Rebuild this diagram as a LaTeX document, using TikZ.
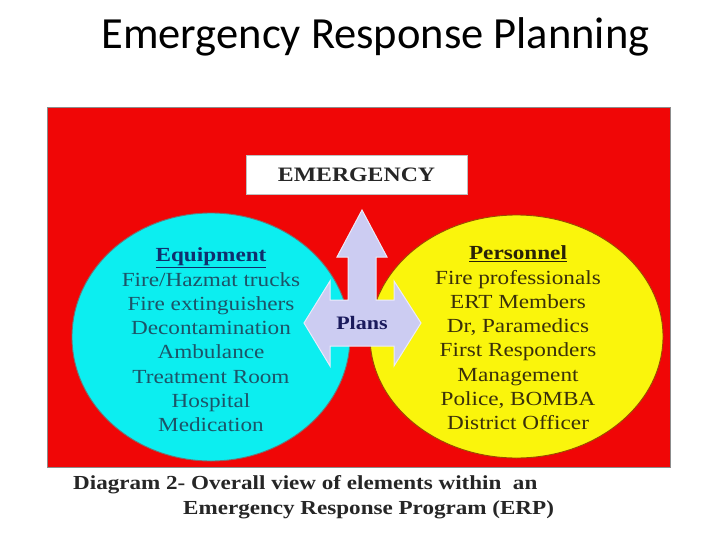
\documentclass[tikz,border=0pt]{standalone}
\usepackage{fontspec}
\setmainfont{Liberation Serif}
\newfontfamily\titlefont{Carlito}
\newfontfamily\diagfont[FakeStretch=1.16]{Liberation Serif}
\usetikzlibrary{positioning}
\definecolor{boardred}{RGB}{240,6,6}
\definecolor{equipcyan}{RGB}{12,238,240}
\definecolor{staffyellow}{RGB}{250,245,12}
\definecolor{planlilac}{RGB}{204,204,242}
\definecolor{equiptext}{RGB}{28,84,104}
\definecolor{stafftext}{RGB}{58,48,10}
\definecolor{plantext}{RGB}{26,26,92}
\tikzset{
  listtext/.style={align=center,inner sep=0pt,font=\diagfont\fontsize{20}{24.3}\selectfont},
  captext/.style={anchor=base west,inner sep=0pt,text=black!85,font=\diagfont\bfseries\fontsize{19.9}{24}\selectfont}
}
\begin{document}
\begin{tikzpicture}[x=1pt,y=-1pt]
      \useasboundingbox (0,0) rectangle (728,546);
      \fill[white] (0,0) rectangle (728,546);
      \node[anchor=base,inner sep=0pt,font=\titlefont\fontsize{44.5}{50}\selectfont] (title) at (375.5,48) {Emergency Response Planning};
      \draw[fill=boardred,draw=black!45,line width=0.8pt] (47,107) rectangle (670,467);
      \node[draw=black!25,fill=white,minimum width=221pt,minimum height=39pt,inner sep=0pt,
            font=\diagfont\bfseries\fontsize{20.5}{24}\selectfont,text=black!85] (emerg) at (356.5,174.5) {EMERGENCY};
      \draw[fill=equipcyan,draw=black!55,line width=0.9pt] (211,337) ellipse (139 and 124);
      \draw[fill=staffyellow,draw=black!40!orange,line width=0.9pt] (516.5,336.5) ellipse (146.5 and 121.5);
      \coordinate (mid) at (362,323);
      % arrow of plans
      \draw[fill=planlilac,draw=white!60!planlilac,line width=1pt]
        (362,210) -- (387,257) -- (376,257) -- (376,300) -- (394,300) -- (394,281)
        -- (421,323) -- (394,366) -- (394,346) -- (330,346) -- (330,366) -- (304,323)
        -- (330,281) -- (330,300) -- (348,300) -- (348,257) -- (337,257) -- cycle;
      \node[inner sep=0pt,text=plantext,font=\diagfont\bfseries\fontsize{19}{24}\selectfont] (plans) at (mid) {Plans};
      \node[listtext,text=equiptext] (equip) at (211,340)
        {{\color{black!30!equiptext!80!blue}\bfseries\underline{Equipment}}\\
         Fire/Hazmat trucks\\Fire extinguishers\\Decontamination\\Ambulance\\
         Treatment Room\\Hospital\\Medication};
      \node[listtext,text=stafftext] (staff) at (518,338)
        {{\color{stafftext!70!black}\bfseries\underline{Personnel}}\\
         Fire professionals\\ERT Members\\Dr, Paramedics\\First Responders\\
         Management\\Police, BOMBA\\District Officer};
      \node[captext] (cap1) at (73,489) {Diagram 2- Overall view of elements within \ an};
      \node[captext] (cap2) at (183,514) {Emergency Response Program (ERP)};
    \end{tikzpicture}
\end{document}
